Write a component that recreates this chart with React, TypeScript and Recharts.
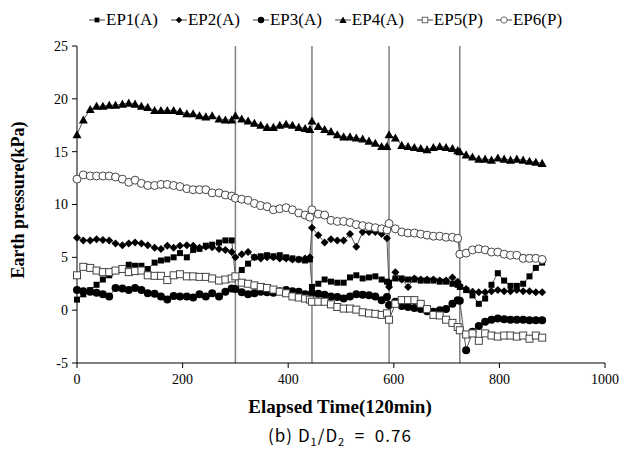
import React from 'react';
import { LineChart, Line, XAxis, YAxis, ReferenceLine } from 'recharts';

const TIME = [
  0, 12, 25, 37, 49, 61, 73, 86, 98, 110, 122, 134, 147, 159, 171, 183, 195, 208, 220, 232, 244, 256, 269, 281, 293, 300,
  312, 324, 336, 348, 360, 372, 384, 396, 408, 420, 432, 441, 445,
  457, 469, 481, 493, 505, 517, 529, 541, 553, 565, 577, 587, 591,
  603, 615, 627, 639, 651, 663, 675, 687, 699, 711, 721, 725,
  737, 749, 761, 773, 785, 797, 809, 821, 833, 845, 857, 869, 881,
];

const EP1 = [
  1.0, 1.5, 1.9, 2.4, 2.9, 3.3, 3.7, 3.9, 4.3, 4.2, 4.2, 3.9, 4.5, 4.7, 4.8, 5.0, 5.4, 5.0, 5.7, 5.8, 6.1, 6.2, 6.4, 6.6, 6.6, 3.2,
  3.8, 4.4, 5.0, 5.1, 5.2, 5.1, 5.2, 5.0, 4.9, 4.8, 4.7, 4.8, 2.2,
  2.5, 2.9, 2.7, 2.6, 2.6, 3.1, 3.3, 3.0, 3.1, 3.2, 2.9, 2.7, 2.6,
  3.0, 3.0, 2.9, 2.9, 2.8, 2.8, 2.8, 2.7, 2.7, 2.5, 2.4, 2.2,
  1.9, 1.4, 0.6, 1.1, 2.4, 3.5, 2.8, 2.3, 2.3, 2.5, 3.2, 4.0, 4.5,
];

const EP2 = [
  6.85, 6.6, 6.6, 6.7, 6.65, 6.6, 6.3, 6.15, 6.3, 6.4, 6.3, 6.15, 5.9, 5.8, 6.1, 5.9, 6.1, 6.15, 6.1, 5.9, 6.0, 5.95, 5.8, 5.7, 5.5, 5.0,
  5.3, 5.5, 5.0, 4.9, 5.0, 5.0, 4.9, 4.9, 4.8, 4.8, 4.9, 5.0, 7.8,
  7.1, 6.4, 6.7, 6.6, 6.6, 7.2, 6.0, 7.4, 7.4, 7.4, 7.2, 6.8, 2.2,
  3.6, 2.9, 2.2, 3.0, 2.9, 2.9, 2.9, 2.8, 2.8, 3.1, 2.7, 2.3,
  2.0, 1.75, 1.7, 1.7, 1.8, 1.9, 1.8, 1.8, 1.9, 1.8, 1.8, 1.7, 1.7,
];

const EP3 = [
  1.9, 1.8, 1.75, 1.65, 1.5, 1.3, 2.1, 2.05, 1.9, 2.1, 1.9, 1.6, 1.55, 1.3, 1.0, 1.35, 1.3, 1.3, 1.2, 1.5, 1.3, 1.6, 1.3, 1.75, 2.05, 2.0,
  1.7, 1.5, 1.6, 1.75, 1.7, 1.65, 1.8, 1.9, 1.8, 1.75, 1.5, 1.4, 1.6,
  1.55, 1.45, 1.3, 1.25, 1.1, 1.3, 1.5, 1.45, 1.4, 1.3, 0.95, 1.25, 0.5,
  0.8, 0.4, 0.3, 0.2, 0.1, -0.1, -0.15, 0.0, 0.1, 0.6, 0.95, 0.9,
  -3.8, -2.05, -1.5, -1.1, -0.9, -0.8, -0.85, -0.9, -0.9, -0.9, -0.95, -0.95, -0.95,
];

const EP4 = [
  16.6, 18.0, 19.0, 19.3, 19.3, 19.4, 19.4, 19.5, 19.6, 19.5, 19.3, 19.2, 18.9, 18.9, 18.9, 18.9, 18.8, 18.6, 18.6, 18.4, 18.3, 18.4, 18.1, 18.0, 18.0, 18.4,
  18.1, 17.9, 17.7, 17.5, 17.3, 17.3, 17.5, 17.6, 17.5, 17.3, 17.2, 17.1, 17.9,
  17.4, 17.1, 16.9, 16.6, 16.4, 16.4, 16.3, 16.2, 16.0, 15.8, 15.5, 15.5, 16.6,
  16.3, 15.6, 15.5, 15.4, 15.3, 15.2, 15.4, 15.5, 15.4, 15.3, 15.1, 15.0,
  14.7, 14.5, 14.3, 14.3, 14.2, 14.4, 14.3, 14.2, 14.3, 14.2, 14.1, 14.0, 13.9,
];

const EP5 = [
  3.3, 4.1, 4.0, 3.75, 3.6, 3.6, 3.75, 3.9, 3.6, 3.7, 3.75, 3.3, 3.25, 3.25, 2.85, 3.3, 3.4, 3.2, 3.2, 3.15, 3.15, 3.0, 2.8, 2.9, 3.0, 3.2,
  2.6, 2.5, 2.35, 2.2, 2.1, 1.95, 1.75, 1.6, 1.3, 1.2, 1.1, 1.0, 0.8,
  0.8, 0.8, 0.55, 0.3, 0.15, 0.15, 0.05, -0.2, -0.3, -0.35, -0.45, -0.3, -0.9,
  0.6, 0.95, 0.95, 0.95, 0.6, 0.1, -0.45, -0.5, -0.9, -1.2, -1.6, -1.9,
  -2.3, -2.2, -2.9, -2.2, -2.4, -2.5, -2.4, -2.4, -2.5, -2.4, -2.7, -2.4, -2.6,
];

const EP6 = [
  12.4, 12.8, 12.7, 12.7, 12.7, 12.7, 12.6, 12.4, 12.1, 12.3, 12.0, 11.8, 11.8, 11.9, 11.9, 11.8, 11.7, 11.5, 11.4, 11.4, 11.4, 11.1, 11.1, 10.9, 10.8, 10.6,
  10.5, 10.4, 10.1, 9.9, 9.8, 9.5, 9.6, 9.7, 9.5, 9.2, 9.0, 8.8, 9.5,
  9.1, 9.0, 8.5, 8.4, 8.4, 8.3, 8.1, 8.0, 7.9, 7.8, 7.7, 7.6, 8.2,
  7.7, 7.4, 7.3, 7.3, 7.2, 7.1, 7.0, 7.0, 6.9, 6.9, 6.8, 5.3,
  5.4, 5.7, 5.8, 5.7, 5.5, 5.5, 5.3, 5.2, 5.2, 4.9, 4.9, 4.9, 4.8,
];

const EVENTS = [300, 445, 591, 725];
const X_TICKS = [0, 200, 400, 600, 800, 1000];
const Y_TICKS = [-5, 0, 5, 10, 15, 20, 25];

const SERIES = [
  { key: 'ep1', name: 'EP1(A)', values: EP1, shape: 'square', filled: true },
  { key: 'ep2', name: 'EP2(A)', values: EP2, shape: 'diamond', filled: true },
  { key: 'ep3', name: 'EP3(A)', values: EP3, shape: 'circle', filled: true },
  { key: 'ep4', name: 'EP4(A)', values: EP4, shape: 'triangle', filled: true },
  { key: 'ep5', name: 'EP5(P)', values: EP5, shape: 'square', filled: false },
  { key: 'ep6', name: 'EP6(P)', values: EP6, shape: 'circle', filled: false },
];

const data = TIME.map((t, i) => {
  const row: Record<string, number> = { t };
  SERIES.forEach((s) => { row[s.key] = s.values[i]; });
  return row;
});

function Marker({ shape, filled, cx, cy }: { shape: string; filled: boolean; cx: number; cy: number }) {
  const fill = filled ? '#000' : '#fff';
  const stroke = filled ? '#000' : '#444';
  if (shape === 'square') {
    const s = filled ? 6 : 7;
    return <rect x={cx - s / 2} y={cy - s / 2} width={s} height={s} fill={fill} stroke={stroke} strokeWidth={filled ? 0 : 1} />;
  }
  if (shape === 'diamond') {
    const s = 4;
    return <polygon points={`${cx},${cy - s} ${cx + s},${cy} ${cx},${cy + s} ${cx - s},${cy}`} fill={fill} />;
  }
  if (shape === 'triangle') {
    const s = 4.5;
    return <polygon points={`${cx},${cy - s} ${cx + s},${cy + s * 0.8} ${cx - s},${cy + s * 0.8}`} fill={fill} />;
  }
  return <circle cx={cx} cy={cy} r={4} fill={fill} stroke={stroke} strokeWidth={filled ? 0 : 1} />;
}

function makeDot(shape: string, filled: boolean) {
  return (props: any) => {
    const { cx, cy, index } = props;
    if (cx == null || cy == null) return <g key={index} />;
    return <g key={index}><Marker shape={shape} filled={filled} cx={cx} cy={cy} /></g>;
  };
}

const serif = '"Liberation Serif", "Times New Roman", serif';

function LegendRow() {
  return (
    <div style={{ position: 'absolute', left: 80, top: 2, display: 'flex', fontFamily: serif, fontSize: 17, color: '#000' }}>
      {SERIES.map((s) => (
        <div key={s.key} style={{ display: 'flex', alignItems: 'center', marginRight: 12 }}>
          <svg width={18} height={14}>
            <line x1={1} y1={7} x2={17} y2={7} stroke="#444" strokeWidth={1} />
            <g transform="translate(9,7) scale(0.8) translate(-9,-7)">
              <Marker shape={s.shape} filled={s.filled} cx={9} cy={7} />
            </g>
          </svg>
          <span>{s.name}</span>
        </div>
      ))}
    </div>
  );
}

export default function App() {
  return (
    <div style={{ position: 'relative', width: 629, height: 453 }}>
      <LineChart width={629} height={453} data={data} margin={{ top: 38, right: 32, bottom: 68, left: 19 }}>
        <XAxis
          dataKey="t"
          type="number"
          domain={[0, 1000]}
          ticks={X_TICKS}
          axisLine={{ stroke: '#000' }}
          tickLine={{ stroke: '#000' }}
          tickSize={5}
          tickMargin={6}
          tick={{ fill: '#000', fontSize: 14, fontFamily: serif }}
          height={30}
        />
        <YAxis
          type="number"
          domain={[-5, 25]}
          ticks={Y_TICKS}
          axisLine={{ stroke: '#000' }}
          tickLine={{ stroke: '#000' }}
          tickSize={5}
          tickMargin={4}
          tick={{ fill: '#000', fontSize: 14, fontFamily: serif }}
          width={50}
        />
        {EVENTS.map((x) => (
          <ReferenceLine key={x} x={x} stroke="#7f7f7f" strokeWidth={1.5} />
        ))}
        {SERIES.map((s) => (
          <Line
            key={s.key}
            dataKey={s.key}
            stroke="#555"
            strokeWidth={1}
            dot={makeDot(s.shape, s.filled)}
            activeDot={false}
            isAnimationActive={false}
          />
        ))}
      </LineChart>
      <LegendRow />
      <div style={{ position: 'absolute', left: 10, top: 192, transform: 'translate(-50%, -50%) rotate(-90deg)', whiteSpace: 'nowrap', fontFamily: serif, fontWeight: 'bold', fontSize: 18 }}>
        Earth pressure(kPa)
      </div>
      <div style={{ position: 'absolute', left: 0, width: 664, top: 388, textAlign: 'center', fontFamily: serif, fontWeight: 'bold', fontSize: 19 }}>
        Elapsed Time(120min)
      </div>
      <div style={{ position: 'absolute', left: 0, width: 664, top: 414, textAlign: 'center', fontFamily: '"Noto Sans CJK KR", "Noto Sans", sans-serif', fontSize: 17, letterSpacing: 1, whiteSpace: 'pre' }}>
        (b) D<sub style={{ fontSize: 11 }}>1</sub>/D<sub style={{ fontSize: 11 }}>2</sub>  =  0.76
      </div>
    </div>
  );
}
